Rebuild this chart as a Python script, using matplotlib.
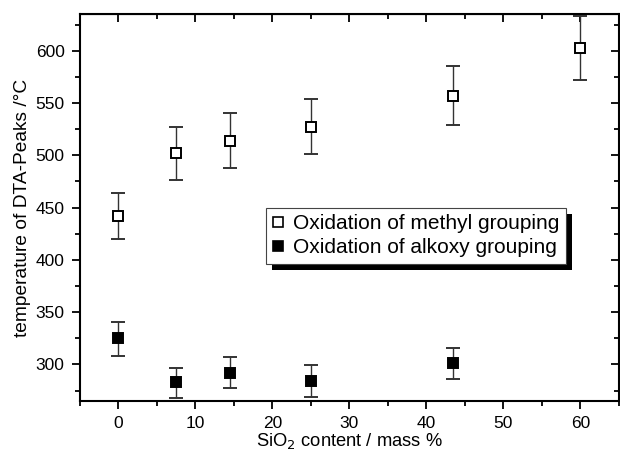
import numpy as np
import matplotlib
matplotlib.use("Agg")
import matplotlib.pyplot as plt
from matplotlib.patches import Rectangle
from matplotlib.lines import Line2D

plt.rcParams["font.family"] = ["Liberation Sans", "DejaVu Sans"]

# SiO2 content (mass %)
x_methyl = [0, 7.5, 14.5, 25, 43.5, 60]
y_methyl = [442, 502, 514, 527, 557, 603]
err_methyl_lo = [22, 26, 26, 26, 28, 31]
err_methyl_hi = [22, 25, 26, 27, 28, 30]

x_alkoxy = [0, 7.5, 14.5, 25, 43.5]
y_alkoxy = [325, 283, 292, 284, 301]
err_alkoxy_lo = [17, 15, 15, 15, 15]
err_alkoxy_hi = [16, 14, 15, 15, 15]

labels = ["Oxidation of methyl grouping", "Oxidation of alkoxy grouping"]

fig = plt.figure(figsize=(6.2, 4.57), dpi=100)
ax = fig.add_axes([0.129, 0.1225, 0.869, 0.8465])

ax.errorbar(x_methyl, y_methyl, yerr=[err_methyl_lo, err_methyl_hi],
            fmt="s", ms=7, mfc="white", mec="black", mew=1.4,
            ecolor="#333333", elinewidth=1, capsize=5, capthick=1, zorder=3)
ax.errorbar(x_alkoxy, y_alkoxy, yerr=[err_alkoxy_lo, err_alkoxy_hi],
            fmt="s", ms=7, mfc="black", mec="black", mew=1.4,
            ecolor="#333333", elinewidth=1, capsize=5, capthick=1, zorder=3)

ax.set_xlim(-5, 65)
ax.set_ylim(265, 635)
ax.set_xticks(np.arange(0, 61, 10))
ax.set_xticks(np.arange(-5, 66, 5), minor=True)
ax.set_yticks(np.arange(300, 601, 50))
ax.set_yticks(np.arange(275, 636, 25), minor=True)

for s in ax.spines.values():
    s.set_linewidth(1.5)
ax.tick_params(which="major", direction="out", length=6, width=1.3,
               labelsize=12.5, pad=5)
ax.tick_params(which="minor", direction="out", length=3.5, width=1.3)

# mirrored ticks pointing inward on top and right
top = ax.secondary_xaxis("top")
top.set_xticks(np.arange(0, 61, 10))
top.set_xticks(np.arange(-5, 66, 5), minor=True)
top.tick_params(which="major", direction="in", length=6, width=1.3, labeltop=False)
top.tick_params(which="minor", direction="in", length=3.5, width=1.3)
right = ax.secondary_yaxis("right")
right.set_yticks(np.arange(300, 601, 50))
right.set_yticks(np.arange(275, 636, 25), minor=True)
right.tick_params(which="major", direction="in", length=6, width=1.3, labelright=False)
right.tick_params(which="minor", direction="in", length=3.5, width=1.3)

ax.set_xlabel("SiO$_2$ content / mass %", fontsize=13.2, labelpad=0)
ax.set_ylabel("temperature of DTA-Peaks /°C", fontsize=13.8, labelpad=3)

handles = [
    Line2D([], [], ls="none", marker="s", ms=6.5, mfc="white", mec="black", mew=1.2),
    Line2D([], [], ls="none", marker="s", ms=6.5, mfc="black", mec="black", mew=1.2),
]
leg = ax.legend(handles, labels, loc="upper left", bbox_to_anchor=(0.345, 0.499),
                borderaxespad=0, fontsize=15, frameon=True, fancybox=False,
                edgecolor="#444444", framealpha=1, handlelength=0.6,
                handletextpad=0.4, labelspacing=0.25, borderpad=0.3)
leg.get_frame().set_linewidth(0.8)

fig.canvas.draw()
bb = leg.get_window_extent().transformed(fig.transFigure.inverted())
dx, dy = 6 / 620, 6 / 457
fig.patches.append(Rectangle((bb.x0 + dx, bb.y0 - dy), bb.width, bb.height,
                             transform=fig.transFigure, facecolor="black",
                             edgecolor="none", zorder=0))
ax.set_zorder(2)
ax.patch.set_alpha(0)

fig.savefig("out.png", dpi=100)
